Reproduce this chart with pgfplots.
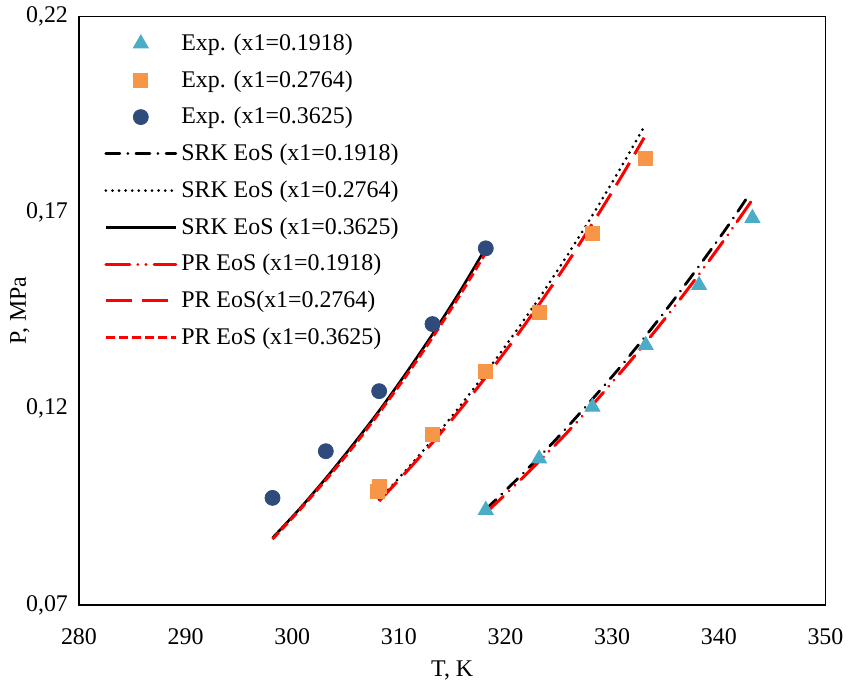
\documentclass[border=0pt]{standalone}
\usepackage{fontspec}
\setmainfont{Liberation Serif}
\usepackage{pgfplots}
\pgfplotsset{compat=1.18}
\definecolor{triblue}{HTML}{4BACC6}
\definecolor{sqorange}{HTML}{F79646}
\definecolor{circblue}{HTML}{2F4B7C}
\begin{document}
\begin{tikzpicture}[font=\fontsize{12}{14.4}\selectfont]
\begin{axis}[
  name=ax,
  scale only axis,
  width=373.5bp, height=294.5bp,
  xmin=280, xmax=350, ymin=0.07, ymax=0.22,
  xtick={280,290,...,350},
  ytick={0.07,0.12,0.17,0.22},
  /pgf/number format/assume math mode=true,
  yticklabel style={/pgf/number format/fixed, /pgf/number format/fixed zerofill, /pgf/number format/precision=2, /pgf/number format/use comma},
  xticklabel style={/pgf/number format/1000 sep={}},
  major tick length=0pt,
  xticklabel style={anchor=center, yshift=-16bp},
  yticklabel style={anchor=east, xshift=-2bp},
  axis line style={black, line width=0.7bp},
  xlabel={T, K}, ylabel={P, MPa},
  xlabel style={at={(axis description cs:0.5,-0.112)}, anchor=center},
  ylabel style={at={(axis description cs:-0.0790,0.5)}, anchor=center},
  legend cell align=left,
  legend image code/.code={\draw[mark repeat=2, mark phase=2, #1] plot coordinates {(0bp,0bp) (17.5bp,0bp) (35bp,0bp)};},
  legend style={draw=none, fill=none, at={(axis description cs:0.0335,1)}, anchor=north west, yshift=-6.5bp, inner sep=0pt, row sep=4.6bp, nodes={inner sep=2bp}},
]
% Experimental data
\addplot[only marks, mark=triangle*, mark size=4.3bp, color=triblue] coordinates {
 (318.15,0.0942) (323.15,0.1073) (328.15,0.1205) (333.15,0.1362) (338.15,0.1515) (343.15,0.1686)};
\addlegendentry{Exp. (x1=0.1918)}
\addplot[only marks, mark=square*, mark size=3.5bp, color=sqorange] coordinates {
 (308.15,0.1003) (308.0,0.0990) (313.15,0.1135) (318.15,0.1296) (323.15,0.1446) (328.15,0.1648) (333.15,0.1839)};
\addlegendentry{Exp. (x1=0.2764)}
\addplot[only marks, mark=*, mark size=3.75bp, color=circblue] coordinates {
 (298.15,0.0973) (303.15,0.1092) (308.15,0.1245) (313.15,0.1416) (318.15,0.1609)};
\addlegendentry{Exp. (x1=0.3625)}
% SRK
\addplot[black, line width=1.4bp, line cap=round, dash pattern=on 7bp off 4bp on 0.05bp off 4bp, smooth] coordinates {
 (318.15,0.0944) (320.65,0.1009) (323.15,0.1077) (325.65,0.1149) (328.15,0.1225) (330.65,0.1303) (333.15,0.1386) (335.65,0.1473) (338.15,0.1564) (340.65,0.1658) (342.9,0.1748)};
\addlegendentry{SRK EoS (x1=0.1918)}
\addplot[black, line width=1.5bp, line cap=round, dash pattern=on 0bp off 3.3bp, smooth] coordinates {
 (308.15,0.0969) (310.65,0.1043) (313.15,0.1121) (315.65,0.1204) (318.15,0.1292) (320.65,0.1385) (323.15,0.1482) (325.65,0.1585) (328.15,0.1693) (330.65,0.1807) (332.9,0.1914)};
\addlegendentry{SRK EoS (x1=0.2764)}
\addplot[black, line width=1.3bp, smooth] coordinates {
 (298.15,0.0871) (300.65,0.0944) (303.15,0.1023) (305.65,0.1107) (308.15,0.1195) (310.65,0.1290) (313.15,0.1390) (315.65,0.1496) (318.15,0.1610)};
\addlegendentry{SRK EoS (x1=0.3625)}
% PR
\addplot[red, line width=1.5bp, line cap=round, dash pattern=on 12bp off 4bp on 0.05bp off 4bp on 0.05bp off 4bp, smooth] coordinates {
 (318.15,0.0935) (320.65,0.0999) (323.15,0.1066) (325.65,0.1136) (328.15,0.1210) (330.65,0.1288) (333.15,0.1369) (335.65,0.1454) (338.15,0.1543) (340.65,0.1636) (343.1,0.1731)};
\addlegendentry{PR EoS (x1=0.1918)}
\addplot[red, line width=1.5bp, dash pattern=on 13bp off 5bp, smooth] coordinates {
 (308.15,0.0965) (310.65,0.1038) (313.15,0.1114) (315.65,0.1195) (318.15,0.1281) (320.65,0.1371) (323.15,0.1466) (325.65,0.1566) (328.15,0.1672) (330.65,0.1782) (333.0,0.1891)};
\addlegendentry{PR EoS(x1=0.2764)}
\addplot[red, line width=1.5bp, dash pattern=on 4.5bp off 2bp, smooth] coordinates {
 (298.15,0.0868) (300.65,0.0941) (303.15,0.1019) (305.65,0.1101) (308.15,0.1190) (310.65,0.1283) (313.15,0.1382) (315.65,0.1487) (318.15,0.1598)};
\addlegendentry{PR EoS (x1=0.3625)}
\end{axis}
\path ([shift={(-39.5bp,-43bp)}]ax.south west) rectangle ([shift={(12bp,7.5bp)}]ax.north east);
\end{tikzpicture}
\end{document}
